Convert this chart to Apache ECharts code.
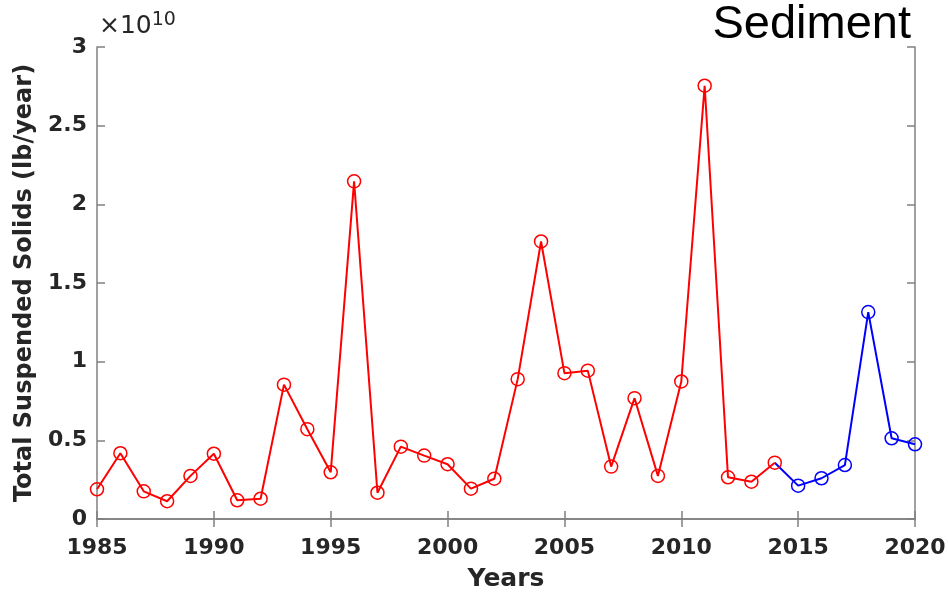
<!DOCTYPE html>
<html><head><meta charset="utf-8">
<script src="https://cdn.jsdelivr.net/npm/echarts@6/dist/echarts.min.js"></script>
<style>html,body{margin:0;padding:0;background:#fff}#c{width:948px;height:593px}</style>
</head><body><div id="c"></div>
<script>
// Years and Total Suspended Solids (units of 1e10 lb/year)
const yearsRed = [1985,1986,1987,1988,1989,1990,1991,1992,1993,1994,1995,1996,1997,1998,1999,2000,2001,2002,2003,2004,2005,2006,2007,2008,2009,2010,2011,2012,2013,2014];
const tssRed = [0.189,0.418,0.176,0.113,0.274,0.415,0.119,0.129,0.854,0.571,0.297,2.146,0.167,0.460,0.403,0.348,0.193,0.256,0.889,1.764,0.927,0.943,0.333,0.768,0.274,0.874,2.754,0.265,0.237,0.358];
const yearsBlue = [2014,2015,2016,2017,2018,2019,2020];
const tssBlue = [0.358,0.212,0.259,0.343,1.315,0.513,0.475];
const xTicks = [1985,1990,1995,2000,2005,2010,2015,2020];
const yTicks = [0,0.5,1,1.5,2,2.5,3];
const SCALE = 1e10;

const chart = echarts.init(document.getElementById('c'), null, {renderer:'canvas'});
const axisColor = '#808080';
const labelColor = '#262626';
const boldFont = 'DejaVu Sans, Liberation Sans, Arial, sans-serif';
const plainFont = 'Liberation Sans, Arial, Helvetica, sans-serif';

const redData = yearsRed.map((y,i)=>[y, tssRed[i]*SCALE]);
const blueData = yearsBlue.map((y,i)=>({value:[y, tssBlue[i]*SCALE], symbol: i===0 ? 'none' : 'circle'}));

const tickStyle = {show:true, inside:true, length:8, lineStyle:{color:axisColor, width:1.5}};
const lineStyleAxis = {show:true, lineStyle:{color:axisColor, width:1.5}};

chart.setOption({
  animation:false,
  backgroundColor:'#fff',
  grid:{left:97, top:47, right:33, bottom:74, containLabel:false, outerBoundsMode:'none'},
  xAxis:[{
    type:'value', min:xTicks[0], max:xTicks[xTicks.length-1], interval:5,
    axisLine:lineStyleAxis, axisTick:tickStyle,
    axisLabel:{color:labelColor, fontSize:22, fontWeight:'bold', fontFamily:boldFont, margin:18,
      formatter:v=>String(v)},
    splitLine:{show:false},
    name:'Years', nameLocation:'middle', nameGap:48,
    nameTextStyle:{color:labelColor, fontSize:25, fontWeight:'bold', fontFamily:boldFont}
  },{
    type:'value', position:'top', min:xTicks[0], max:xTicks[xTicks.length-1], interval:5,
    axisLine:lineStyleAxis, axisTick:tickStyle,
    axisLabel:{show:false}, splitLine:{show:false}
  }],
  yAxis:[{
    type:'value', min:0, max:yTicks[yTicks.length-1]*SCALE, interval:0.5*SCALE,
    axisLine:lineStyleAxis, axisTick:tickStyle,
    axisLabel:{color:labelColor, fontSize:22, fontWeight:'bold', fontFamily:boldFont, margin:10,
      formatter:v=>String(+(v/SCALE).toFixed(1))},
    splitLine:{show:false},
    name:'Total Suspended Solids (lb/year)', nameLocation:'middle', nameGap:56, nameRotate:90,
    nameTextStyle:{color:labelColor, fontSize:24, fontWeight:'bold', fontFamily:boldFont}
  },{
    type:'value', position:'right', min:0, max:yTicks[yTicks.length-1]*SCALE, interval:0.5*SCALE,
    axisLine:lineStyleAxis, axisTick:tickStyle,
    axisLabel:{show:false}, splitLine:{show:false}
  }],
  series:[{
    type:'line', data:redData, symbol:'circle', symbolSize:13, showSymbol:true,
    lineStyle:{color:'#ff0000', width:2},
    itemStyle:{color:'rgba(0,0,0,0)', borderColor:'#ff0000', borderWidth:1.5},
    z:3
  },{
    type:'line', data:blueData, symbol:'circle', symbolSize:13, showSymbol:true,
    lineStyle:{color:'#0000ff', width:2},
    itemStyle:{color:'rgba(0,0,0,0)', borderColor:'#0000ff', borderWidth:1.5},
    z:2
  }],
  graphic:[{
    type:'text', left:99, top:11,
    style:{text:'×10{s|10}', rich:{s:{fontSize:19, verticalAlign:'top', fill:labelColor, fontFamily:'DejaVu Sans, sans-serif', padding:[0,0,12,0]}},
      fontSize:25, fill:labelColor, fontFamily:'DejaVu Sans, sans-serif'}
  },{
    type:'text', right:37, top:2,
    style:{text:'Sediment', fontSize:47, fill:'#000', fontFamily:plainFont}
  }]
});
</script></body></html>
